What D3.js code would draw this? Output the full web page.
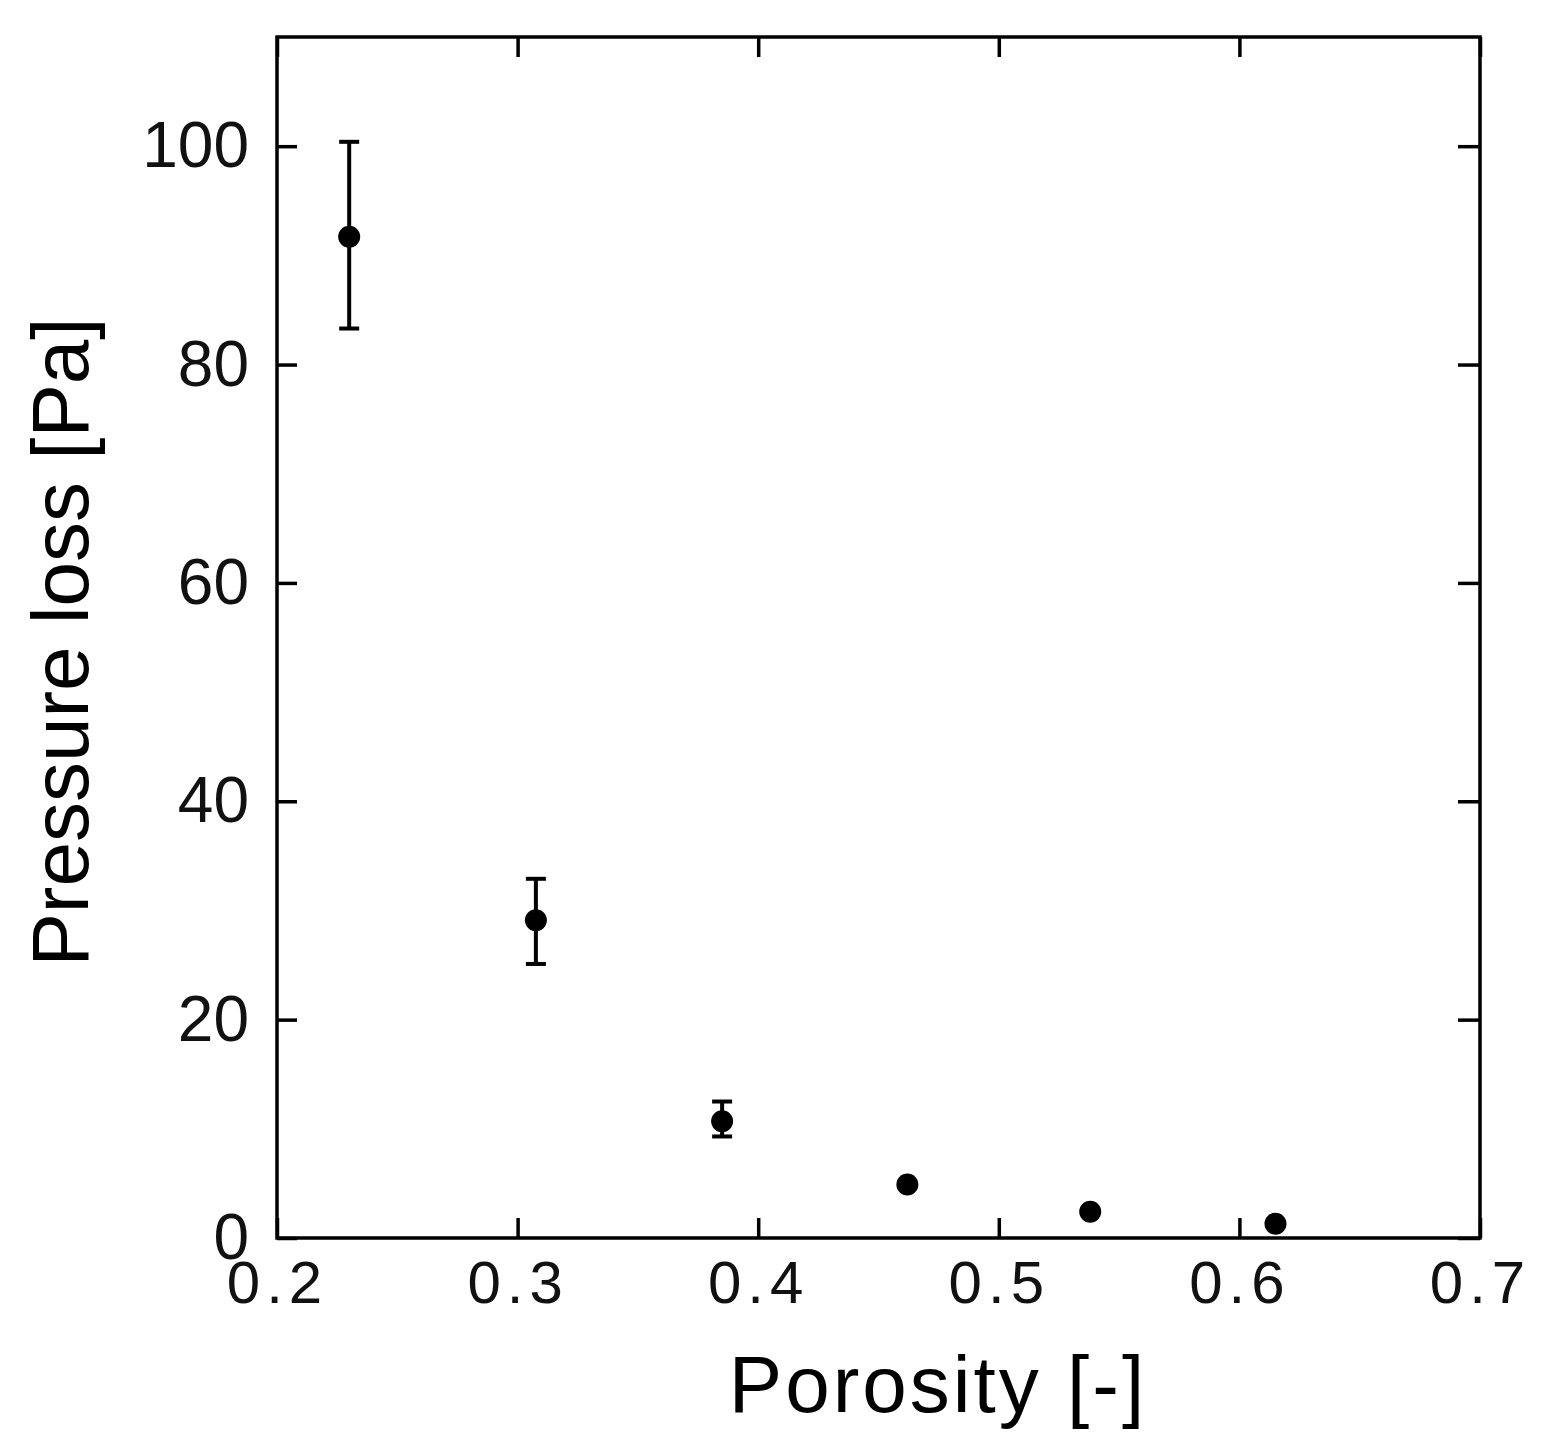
<!DOCTYPE html>
<html><head><meta charset="utf-8">
<script src="https://cdn.jsdelivr.net/npm/d3@7"></script>
<style>body{margin:0;background:#fff}</style></head>
<body><svg id="c" width="1546" height="1455"></svg>
<script>
const porosity = [0.230, 0.3076, 0.385, 0.462, 0.538, 0.615];
const pressure = [91.7, 29.1, 10.7, 4.9, 2.4, 1.3];
const errHigh = [100.4, 32.9, 12.5, null, null, null];
const errLow = [83.3, 25.1, 9.3, null, null, null];
const xTicks = [0.2, 0.3, 0.4, 0.5, 0.6, 0.7];
const yTicks = [0, 20, 40, 60, 80, 100];

const svg = d3.select("#c");
const L = 277, R = 1480, T = 37, B = 1238;
const x = d3.scaleLinear().domain([0.2, 0.7]).range([L, R]);
const y = d3.scaleLinear().domain([0, 110]).range([B, T]);
const font = "Liberation Sans, Arial, sans-serif";

const ax = (g, axis) => { g.call(axis); g.select(".domain").remove(); g.selectAll("line").attr("stroke","#000").attr("stroke-width",3.5); };
svg.append("g").attr("transform",`translate(0,${B})`).call(g=>ax(g,d3.axisBottom(x).tickValues(xTicks).tickSize(-20).tickPadding(22).tickFormat(d3.format(".1f"))))
  .selectAll("text").attr("font-family",font).attr("font-size",60).attr("letter-spacing",6).attr("fill","#111").attr("dy","0.71em");
svg.append("g").attr("transform",`translate(0,${T})`).call(g=>ax(g,d3.axisTop(x).tickValues(xTicks).tickSize(-20).tickFormat("")));
svg.append("g").attr("transform",`translate(${L},0)`).call(g=>ax(g,d3.axisLeft(y).tickValues(yTicks).tickSize(-20).tickPadding(28)))
  .selectAll("text").attr("font-family",font).attr("font-size",64).attr("fill","#111");
svg.append("g").attr("transform",`translate(${R},0)`).call(g=>ax(g,d3.axisRight(y).tickValues(yTicks).tickSize(-22).tickFormat("")));
svg.append("rect").attr("x",L).attr("y",T).attr("width",R-L).attr("height",B-T).attr("fill","none").attr("stroke","#000").attr("stroke-width",3.5);

const data = porosity.map((p,i)=>({p, v:pressure[i], hi:errHigh[i], lo:errLow[i]}));
const eb = data.filter(d=>d.hi!=null);
svg.selectAll(".ev").data(eb).enter().append("line").attr("x1",d=>x(d.p)).attr("x2",d=>x(d.p)).attr("y1",d=>y(d.hi)).attr("y2",d=>y(d.lo)).attr("stroke","#000").attr("stroke-width",4);
["hi","lo"].forEach(k=>svg.selectAll(".c"+k).data(eb).enter().append("line").attr("x1",d=>x(d.p)-10).attr("x2",d=>x(d.p)+10).attr("y1",d=>y(d[k])).attr("y2",d=>y(d[k])).attr("stroke","#000").attr("stroke-width",4));
svg.selectAll("circle").data(data).enter().append("circle").attr("cx",d=>x(d.p)).attr("cy",d=>y(d.v)).attr("r",11).attr("fill","#000");

svg.append("text").attr("x",938).attr("y",1412).attr("text-anchor","middle").attr("font-family",font).attr("font-size",80).attr("letter-spacing",3).text("Porosity [-]");
svg.append("text").attr("transform","translate(88,642) rotate(-90)").attr("text-anchor","middle").attr("font-family",font).attr("font-size",80).text("Pressure loss [Pa]");
</script></body></html>
